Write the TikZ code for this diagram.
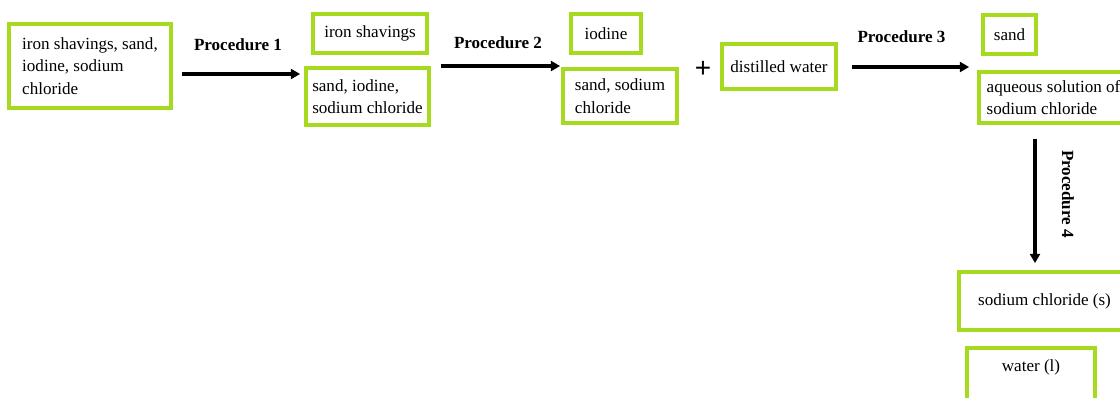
\documentclass[tikz,border=0pt]{standalone}
\usepackage{fontspec}
\setmainfont{Liberation Serif}
\newfontfamily\plusfont{Liberation Sans}
\usepackage{tikz}
\usetikzlibrary{positioning,arrows.meta}

\begin{document}
\begin{tikzpicture}[x=0.75pt,y=-0.75pt]
					\definecolor{boxgreen}{RGB}{166,218,30}
					\tikzset{
						bx/.style={rectangle, draw=boxgreen, line width=2.8pt,
							inner sep=2pt, align=left, font=\fontsize{12.8}{16.9}\selectfont},
						proc/.style={font=\fontsize{12.8}{15}\selectfont\bfseries},
						arr/.style={-{Triangle[length=7pt,width=7.5pt]},
							draw=black, line width=2.8pt}
					}
					\useasboundingbox (0,0) rectangle (1120,397);
					\clip (0,0) rectangle (1120,397);
					
					% MIXTURE
					\node[bx, minimum width=121.5pt, minimum height=63pt] (mix) at (90,66) {iron shavings, sand,\\iodine, sodium\\chloride};
					
					% AFTER PROCEDURE 1
					\node[bx, minimum width=85.5pt, minimum height=29.25pt] (iron) at (370,33.5) {iron shavings};
					\node[bx, minimum width=92.25pt, minimum height=42.75pt] (sin) at (367.5,96.5) {sand, iodine,\\sodium chloride};
					
					\node[proc] (p1) at (238,45) {Procedure 1};
					\draw[arr] ([shift={(9,8)}]mix.east) -- ([shift={(-4,-22.5)}]sin.west);
					
					% AFTER PROCEDURE 2
					\node[bx, minimum width=52.5pt, minimum height=29.25pt] (iod) at (606,33.5) {iodine};
					\node[bx, minimum width=85.5pt, minimum height=40.5pt] (sn) at (620,96) {sand, sodium\\chloride};
					
					\node[proc] (p2) at (498,42.5) {Procedure 2};
					\draw[arr] ([shift={(10,-30.5)}]sin.east) -- ([shift={(-1,-30)}]sn.west);
					
					\node[font=\plusfont\fontsize{21}{24}\selectfont] (plus) at (703,69) {+};
					\node[bx, minimum width=85.5pt, minimum height=33.75pt] (dw) at (779,66.5) {distilled water};
					
					% AFTER PROCEDURE 3
					\node[bx, minimum width=39.75pt, minimum height=29.25pt] (sand) at (1009.5,34.5) {sand};
					\node[bx, minimum width=111.75pt, minimum height=38.25pt] (aq) at (1053.5,97.5) {aqueous solution of\\sodium chloride};
					
					\node[proc] (p3) at (901.5,36.5) {Procedure 3};
					\draw[arr] ([shift={(14,0.5)}]dw.east) -- ([shift={(-8,-30.5)}]aq.west);
					
					% AFTER PROCEDURE 4
					\node[bx, minimum width=128.25pt, minimum height=43.5pt] (nacl) at (1044.5,301) {sodium chloride (s)};
					\node[bx, minimum width=96pt, minimum height=40.5pt, text depth=13.5pt] (wat) at (1031,375) {water (l)};
					
					\node[proc, rotate=-90] (p4) at (1068,194) {Procedure 4};
					\draw[arr] ([shift={(-18.5,14)}]aq.south) -- ([shift={(-9.5,-7)}]nacl.north);
				\end{tikzpicture}
\end{document}
